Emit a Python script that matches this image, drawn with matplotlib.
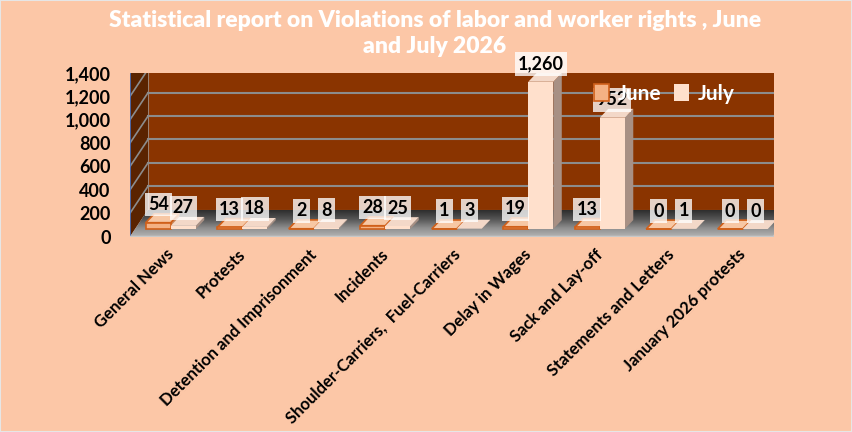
import numpy as np
import matplotlib.pyplot as plt
from matplotlib.patches import Polygon, Patch, Rectangle
from matplotlib.colors import LinearSegmentedColormap

categories = ['General News', 'Protests', 'Detention and Imprisonment', 'Incidents',
              'Shoulder-Carriers,  Fuel-Carriers', 'Delay in Wages', 'Sack and Lay-off',
              'Statements and Letters', 'January 2026 protests']
june = [54, 13, 2, 28, 1, 19, 13, 0, 0]
july = [27, 18, 8, 25, 3, 1260, 952, 1, 0]
yticks = [0, 200, 400, 600, 800, 1000, 1200, 1400]

title = 'Statistical report on Violations of labor and worker rights , June\nand July 2026'

bg = '#FCC7A7'
wall = '#8A3400'
side_wall = '#5A2300'
grid = '#8C8C8C'

plt.rcParams['font.family'] = ['Lato', 'DejaVu Sans']
plt.rcParams['font.weight'] = 'bold'

fig = plt.figure(figsize=(8.52, 4.32), dpi=100, facecolor=bg)
ax = fig.add_axes([130 / 852, (432 - 236.6) / 432, 643.5 / 852, 163.6 / 432])
ax.set_xlim(-0.5, 8.5)
ax.set_ylim(0, 1400)
ax.set_facecolor('none')
for s in ax.spines.values():
    s.set_visible(False)

# pixels per data unit, used to turn the 3d depth (in pixels) into data offsets
p0 = ax.transData.transform((0, 0))
sx = ax.transData.transform((1, 0))[0] - p0[0]
sy = ax.transData.transform((0, 1))[1] - p0[1]


def sh(x, y, d):
    return (x + d[0] / sx, y + d[1] / sy)


WALL = (18, 27)
FRONT = (5, 7.6)
BACK = (13.5, 16.5)
x0, x1 = -0.5, 8.5
ytop = yticks[-1]

# back wall and side wall
ax.add_patch(Polygon([sh(x0, 0, WALL), sh(x1, 0, WALL), sh(x1, ytop, WALL), sh(x0, ytop, WALL)],
                     closed=True, fc=wall, ec='#9A8070', lw=0.8, zorder=1))
ax.add_patch(Polygon([(x0, 0), sh(x0, 0, WALL), sh(x0, ytop, WALL), (x0, ytop)],
                     closed=True, fc=side_wall, ec='none', zorder=1))
for t in yticks[1:-1]:
    a, b = sh(x0, t, WALL), sh(x1, t, WALL)
    ax.plot([a[0], b[0]], [a[1], b[1]], color=grid, lw=1.5, zorder=1.5)
for t in yticks[1:]:
    a = sh(x0, t, WALL)
    ax.plot([x0, a[0]], [t, a[1]], color=grid, lw=1.2, zorder=1.5)
ax.plot([x0, x0], [0, ytop], color='#4A72C0', lw=1.2, zorder=1.6)

# floor with a gradient
floor = Polygon([(x0, 0), (x1, 0), sh(x1, 0, WALL), sh(x0, 0, WALL)], closed=True,
                fc='none', ec='none', zorder=2)
ax.add_patch(floor)
cmap = LinearSegmentedColormap.from_list('fl', ['#B4B4B4', '#8E8E8E', '#555555', '#2E2E2E'])
grad = np.linspace(0, 1, 64).reshape(-1, 1)
fb = sh(x1, 0, WALL)
im = ax.imshow(grad, cmap=cmap, aspect='auto', extent=(x0, fb[0], 0, fb[1]),
               origin='lower', zorder=2)
im.set_clip_path(floor)
ax.plot([x0, x1, fb[0]], [0, 0, fb[1]], color='#C8C8C8', lw=1.2, zorder=2.1)

bw = 0.35
styles = {
    'June': dict(front='#F4B183', top='#F7C7A4', side='#C9865A', ec='#D0601A'),
    'July': dict(front='#FFE0CC', top='#F3D8C8', side='#A89084', ec='none'),
}


def bar3d(xl, v, st):
    xr = xl + bw
    lw = 1.2 if st['ec'] != 'none' else 0
    side = [sh(xr, 0, FRONT), sh(xr, 0, BACK), sh(xr, v, BACK), sh(xr, v, FRONT)]
    top = [sh(xl, v, FRONT), sh(xr, v, FRONT), sh(xr, v, BACK), sh(xl, v, BACK)]
    front = [sh(xl, 0, FRONT), sh(xr, 0, FRONT), sh(xr, v, FRONT), sh(xl, v, FRONT)]
    ax.add_patch(Polygon(side, closed=True, fc=st['side'], ec='none', zorder=3))
    ax.add_patch(Polygon(top, closed=True, fc=st['top'], ec=st['ec'], lw=lw, zorder=3))
    ax.add_patch(Polygon(front, closed=True, fc=st['front'], ec=st['ec'], lw=lw, zorder=3))
    lx, ly = sh(xl + bw / 2, v, FRONT)
    ax.text(lx, ly + 18 / sy, f'{v:,}', ha='center', va='center', fontsize=13,
            fontweight='bold', color='black', zorder=5,
            bbox=dict(boxstyle='square,pad=0.18', fc='white', ec='none', alpha=0.78))


for i in range(len(categories)):
    bar3d(i - bw, june[i], styles['June'])
    bar3d(i, july[i], styles['July'])

ax.set_yticks(yticks, [f'{t:,}' for t in yticks])
ax.tick_params(axis='y', length=0, pad=14, labelsize=13)
ax.set_xticks(range(len(categories)), categories, rotation=45, ha='right',
              rotation_mode='anchor', fontsize=12, fontweight='bold')
ax.tick_params(axis='x', length=0, pad=7)

handles = [Patch(fc=styles['June']['front'], ec=styles['June']['ec'], lw=1.2, label='June'),
           Patch(fc=styles['July']['front'], ec='none', label='July')]
leg = ax.legend(handles=handles, loc='center left', bbox_to_anchor=(594 / 852, 1 - 94 / 432),
                bbox_transform=fig.transFigure, ncol=2, frameon=False,
                prop={'family': 'Lato', 'weight': 'bold', 'size': 15}, labelcolor='white',
                handlelength=0.7, handleheight=0.9, handletextpad=0.45, columnspacing=0.6,
                borderpad=0, borderaxespad=0)
leg.set_zorder(10)

fig.text(435 / 852, 1 - 33.5 / 432, title, ha='center', va='center', color='white',
         fontsize=16.5, fontweight='heavy', linespacing=1.3, zorder=10)

fig.add_artist(Rectangle((0, 0), 1, 1, transform=fig.transFigure, fill=False,
                         ec='#E6E6E6', lw=1.5))

fig.savefig('out.png', dpi=100, facecolor=bg)
